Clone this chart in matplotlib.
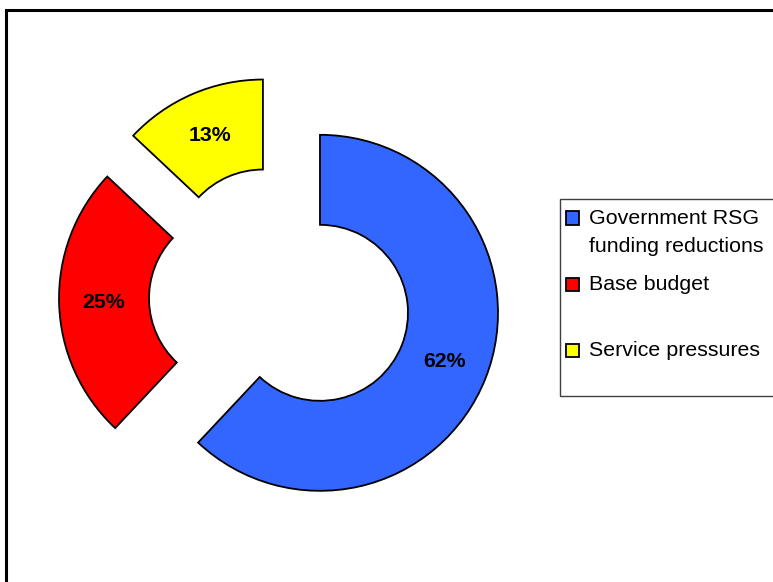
import matplotlib
matplotlib.use("Agg")
import matplotlib.pyplot as plt
from matplotlib.patches import Rectangle

# Data
labels = ["Government RSG\nfunding reductions", "Base budget", "Service pressures"]
shares = [62, 25, 13]
colors = ["#3366FF", "#FF0000", "#FFFF00"]

W, H = 773, 582
plt.rcParams['font.family'] = ['Liberation Sans', 'DejaVu Sans']

fig = plt.figure(figsize=(W / 100, H / 100), dpi=100)
ax = fig.add_axes([0, 0, 1, 1])

# outer frame of the chart (runs off right/bottom edge)
fig.patches.append(Rectangle((6 / W, -0.1), 1.2, 1 - 10 / H + 0.1, transform=fig.transFigure,
                             fill=False, edgecolor='black', linewidth=2.2))

# pie explode is in data units, so use pixels here
R = 178
ax.pie(shares, colors=colors, startangle=90, counterclock=False,
       explode=[43] * len(shares), radius=R, center=(280, H - 297),
       autopct='%1.0f%%', pctdistance=0.75,
       wedgeprops=dict(width=90, edgecolor='black', linewidth=1.3),
       textprops=dict(fontsize=15.3, fontweight='bold'), frame=True)
ax.set_xlim(0, W)
ax.set_ylim(0, H)
ax.set_axis_off()

# legend, drawn by hand to match Excel's spacing
def fx(x):
    return x / W

def fy(y):
    return 1 - y / H

fig.patches.append(Rectangle((fx(560), fy(396)), 0.5, (396 - 199) / H, transform=fig.transFigure,
                             facecolor='white', edgecolor='#404040', linewidth=1))
for i, (lab, col) in enumerate(zip(labels, colors)):
    yc = 218 + 66 * i
    fig.patches.append(Rectangle((fx(566), fy(yc + 6.5)), 13 / W, 13 / H, transform=fig.transFigure,
                                 facecolor=col, edgecolor='black', linewidth=1.3))
    for j, line in enumerate(lab.split('\n')):
        fig.text(fx(589), fy(yc + 28 * j), line, fontsize=15.4, va='center', ha='left')

fig.savefig("out.png", dpi=100)
